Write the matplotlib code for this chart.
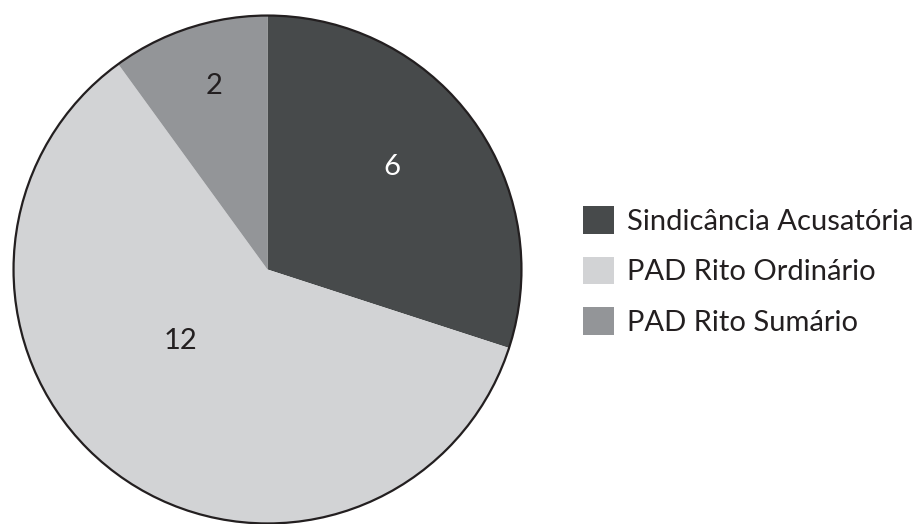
import numpy as np
import matplotlib.pyplot as plt
from matplotlib.patches import Circle

categories = ['Sindicância Acusatória', 'PAD Rito Ordinário', 'PAD Rito Sumário']
values = [6, 12, 2]
colors = ['#474a4b', '#d2d3d5', '#939598']

plt.rcParams['font.family'] = ['Lato', 'DejaVu Sans']

fig = plt.figure(figsize=(9.18, 5.24), dpi=100)
ax = fig.add_axes([11 / 918, -2 / 524, 513 / 918, 513 / 524])

wedges, _ = ax.pie(values, colors=colors, startangle=90, counterclock=False,
                   radius=1.0, wedgeprops=dict(linewidth=0))
ax.add_patch(Circle((0, 0), 1.0, fill=False, edgecolor='#231f20', linewidth=1.6))
ax.set_xlim(-1.01, 1.01)
ax.set_ylim(-1.01, 1.01)
ax.set_aspect('equal')
ax.axis('off')

# label placement (radius fraction, angle in degrees)
label_pos = [(0.634, 39.5), (0.443, 219.6), (0.753, 106.1)]
for v, (r, a) in zip(values, label_pos):
    t = np.deg2rad(a)
    ax.text(r * np.cos(t), r * np.sin(t), str(v), ha='center', va='center',
            fontsize=21, color='#231f20' if v != 6 else 'white')

fig.legend(wedges, categories, loc='center left',
           bbox_to_anchor=(574 / 918, 1 - 271 / 524), frameon=False,
           fontsize=21, handlelength=1.07, handleheight=1.07,
           handletextpad=0.45, labelspacing=0.75, labelcolor='#231f20',
           borderaxespad=0, borderpad=0.3)

fig.savefig('out.png', dpi=100)
